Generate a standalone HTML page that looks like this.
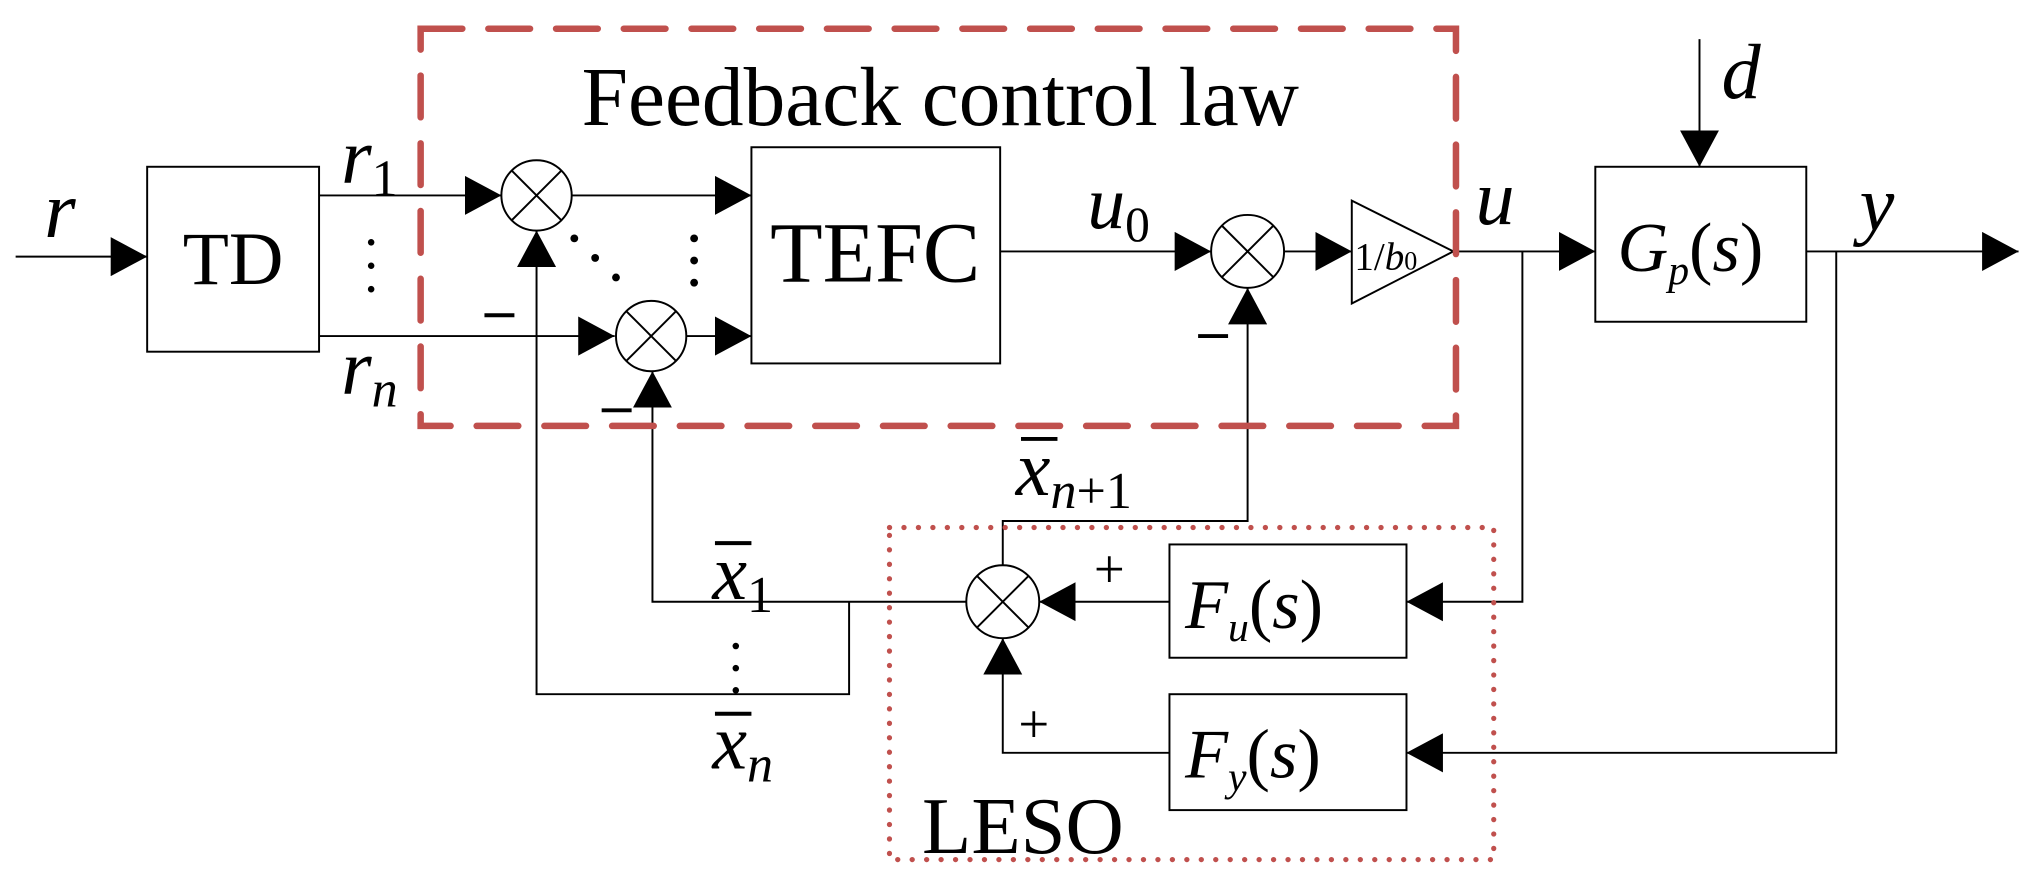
<!DOCTYPE html>
<html><head><meta charset="utf-8"><style>html,body{margin:0;padding:0;background:#fff}svg{display:block}</style></head>
<body>
<svg width="2042" height="874" viewBox="0 0 1568 671" xmlns="http://www.w3.org/2000/svg" font-family="Liberation Serif, serif">
<defs>
<marker id="a" markerWidth="28" markerHeight="30" refX="28" refY="15" orient="auto" markerUnits="userSpaceOnUse"><path d="M0,0 L28,15 L0,30 Z" fill="#000"/></marker>
</defs>
<g stroke="#000" stroke-width="1.5" fill="none">
<line x1="12" y1="197" x2="113" y2="197" marker-end="url(#a)"/>
<rect x="113" y="128" width="132" height="142"/>
<line x1="245" y1="150" x2="385" y2="150" marker-end="url(#a)"/>
<line x1="245" y1="258" x2="472" y2="258" marker-end="url(#a)"/>
<circle cx="412" cy="150" r="27"/>
<line x1="393" y1="131" x2="431" y2="169"/><line x1="431" y1="131" x2="393" y2="169"/>
<circle cx="500" cy="258" r="27"/>
<line x1="481" y1="239" x2="519" y2="277"/><line x1="519" y1="239" x2="481" y2="277"/>
<line x1="439" y1="150" x2="577" y2="150" marker-end="url(#a)"/>
<line x1="527" y1="258" x2="577" y2="258" marker-end="url(#a)"/>
<rect x="577" y="113" width="191" height="166"/>
<line x1="768" y1="193" x2="930" y2="193" marker-end="url(#a)"/>
<circle cx="958" cy="193" r="28"/>
<line x1="938" y1="173" x2="978" y2="213"/><line x1="978" y1="173" x2="938" y2="213"/>
<line x1="986" y1="193" x2="1038" y2="193" marker-end="url(#a)"/>
<path d="M1038,154 L1116,193 L1038,233 Z"/>
<line x1="1116" y1="193" x2="1225" y2="193" marker-end="url(#a)"/>
<rect x="1225" y="128" width="162" height="119"/>
<line x1="1305" y1="30" x2="1305" y2="128" marker-end="url(#a)"/>
<line x1="1387" y1="193" x2="1550" y2="193" marker-end="url(#a)"/>
<polyline points="1169,193 1169,462 1080,462" marker-end="url(#a)"/>
<polyline points="1410,193 1410,578 1080,578" marker-end="url(#a)"/>
<rect x="898" y="418" width="182" height="87"/>
<rect x="898" y="533" width="182" height="89"/>
<line x1="898" y1="462" x2="798" y2="462" marker-end="url(#a)"/>
<circle cx="770" cy="462" r="28"/>
<line x1="750" y1="442" x2="790" y2="482"/><line x1="790" y1="442" x2="750" y2="482"/>
<polyline points="898,578 770,578 770,490" marker-end="url(#a)"/>
<polyline points="770,434 770,400 958,400 958,221" marker-end="url(#a)"/>
<polyline points="742,462 501,462 501,285" marker-end="url(#a)"/>
<polyline points="652,462 652,533 412,533 412,177" marker-end="url(#a)"/>
</g>
<g stroke="#000" stroke-width="3">
<line x1="372" y1="242" x2="395" y2="242"/>
<line x1="462" y1="315" x2="485" y2="315"/>
<line x1="920" y1="258" x2="943" y2="258"/>
</g>
<g fill="#000">
<circle cx="285" cy="186" r="2.5"/><circle cx="285" cy="204" r="2.5"/><circle cx="285" cy="222" r="2.5"/>
<circle cx="441" cy="183" r="3"/><circle cx="457" cy="198" r="3"/><circle cx="473" cy="213" r="3"/>
<circle cx="533" cy="183" r="3"/><circle cx="533" cy="200" r="3"/><circle cx="533" cy="217" r="3"/>
<circle cx="565" cy="496" r="2.5"/><circle cx="565" cy="513" r="2.5"/><circle cx="565" cy="530" r="2.5"/>
</g>
<rect x="323" y="22" width="795" height="305" fill="none" stroke="#c0504d" stroke-width="5" stroke-dasharray="32,20" stroke-linecap="round"/>
<rect x="683" y="405" width="464" height="255" fill="none" stroke="#c0504d" stroke-width="4" stroke-dasharray="0.1,11" stroke-linecap="round"/>
<g fill="#000">
<text x="722" y="96" font-size="64" text-anchor="middle">Feedback control law</text>
<text x="179" y="218" font-size="58" text-anchor="middle">TD</text>
<text x="672" y="216" font-size="66" text-anchor="middle">TEFC</text>
<text x="34" y="182" font-size="62" font-style="italic">r</text>
<text x="262" y="140" font-size="60" font-style="italic">r<tspan font-size="40" font-style="normal" dy="10">1</tspan></text>
<text x="262" y="302" font-size="60" font-style="italic">r<tspan font-size="40" dy="10">n</tspan></text>
<text x="835" y="175" font-size="58" font-style="italic">u<tspan font-size="38" font-style="normal" dy="10">0</tspan></text>
<text x="1040" y="207" font-size="30">1/<tspan font-style="italic">b</tspan><tspan font-size="20">0</tspan></text>
<text x="1133" y="172" font-size="60" font-style="italic">u</text>
<text x="1428" y="177" font-size="60" font-style="italic">y</text>
<text x="1322" y="75" font-size="60" font-style="italic">d</text>
<text x="1242" y="208" font-size="54" font-style="italic">G<tspan font-size="32" dy="10">p</tspan><tspan font-style="normal" dy="-10">(</tspan>s<tspan font-style="normal">)</tspan></text>
<text x="910" y="482" font-size="54" font-style="italic">F<tspan font-size="32" dy="10">u</tspan><tspan font-style="normal" dy="-10">(</tspan>s<tspan font-style="normal">)</tspan></text>
<text x="910" y="597" font-size="54" font-style="italic">F<tspan font-size="32" dy="10">y</tspan><tspan font-style="normal" dy="-10">(</tspan>s<tspan font-style="normal">)</tspan></text>
<text x="840" y="451" font-size="42">+</text>
<text x="782" y="570" font-size="42">+</text>
<text x="708" y="655" font-size="62">LESO</text>
<text x="780" y="380" font-size="60" font-style="italic">x<tspan font-size="40" dy="10">n</tspan><tspan font-size="40" font-style="normal">+1</tspan></text>
<text x="547" y="460" font-size="60" font-style="italic">x<tspan font-size="40" font-style="normal" dy="10">1</tspan></text>
<text x="547" y="590" font-size="60" font-style="italic">x<tspan font-size="40" dy="10">n</tspan></text>
</g>
<g stroke="#000" stroke-width="3">
<line x1="784" y1="337" x2="812" y2="337"/>
<line x1="549" y1="417" x2="577" y2="417"/>
<line x1="549" y1="548" x2="577" y2="548"/>
</g>
</svg>
</body></html>
